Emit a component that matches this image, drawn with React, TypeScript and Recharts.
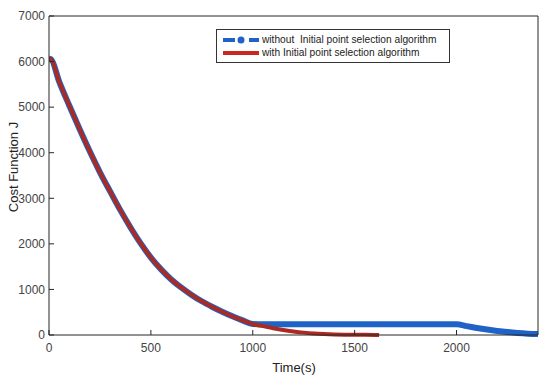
import React from 'react'
import { LineChart, Line, XAxis, YAxis } from 'recharts'

// time in seconds
const timeRed = [0, 10, 50, 100, 150, 200, 250, 300, 350, 400, 450, 500, 550, 600, 650, 700, 750, 800, 850, 900, 950, 1000,
    1050, 1100, 1150, 1200, 1250, 1300, 1350, 1400, 1450, 1500, 1550, 1600, 1620]
const costRed = [6060, 6050, 5560, 5030, 4520, 4030, 3570, 3150, 2740, 2360, 2010, 1700, 1440, 1220, 1040, 880, 740, 620, 510, 410, 320, 240,
    195, 150, 110, 78, 52, 33, 21, 13, 8, 5, 3, 1, 0]

const timeBlue = [0, 10, 50, 100, 150, 200, 250, 300, 350, 400, 450, 500, 550, 600, 650, 700, 750, 800, 850, 900, 950, 1000,
    1050, 1100, 1150, 1200, 1250, 1300, 1350, 1400, 1450, 1500, 1550, 1600, 1650, 1700, 1750, 1800, 1850, 1900, 1950, 2000,
    2050, 2100, 2150, 2200, 2250, 2300, 2350, 2400]
const costBlue = [6060, 6050, 5560, 5030, 4520, 4030, 3570, 3150, 2740, 2360, 2010, 1700, 1440, 1220, 1040, 880, 740, 620, 510, 410, 320, 240,
    235, 235, 235, 235, 235, 235, 235, 235, 235, 235, 235, 235, 235, 235, 235, 235, 235, 235, 235, 235,
    195, 155, 120, 90, 65, 45, 30, 20]

const xTicks = [0, 500, 1000, 1500, 2000]
const yTicks = [0, 1000, 2000, 3000, 4000, 5000, 6000, 7000]

const labelBlue = 'without  Initial point selection algorithm'
const labelRed = 'with Initial point selection algorithm'

const redData = timeRed.map((t, i) => ({ t, cost: costRed[i] }))
const blueData = timeBlue.map((t, i) => ({ t, cost: costBlue[i] }))

const BLUE = '#1f63c6'
const RED = '#ab2a22'
const AXIS = '#262626'
const font = '"Liberation Sans", Arial, sans-serif'
const tickStyle = { fontSize: 12, fill: '#444', fontFamily: font }

const App = () => {
    return (
        <div style={{ position: 'absolute', left: 0, top: 0, width: 550, height: 375, background: '#fff', fontFamily: font }}>
            <LineChart width={550} height={375} margin={{ top: 15, right: 11, bottom: 0, left: 0 }}>
                <XAxis xAxisId="b" dataKey="t" type="number" domain={[0, 2400]} ticks={xTicks} allowDataOverflow
                    height={40} tickSize={-5} tickMargin={13} tick={tickStyle}
                    axisLine={{ stroke: AXIS }} tickLine={{ stroke: AXIS }} />
                <XAxis xAxisId="top" orientation="top" dataKey="t" type="number" domain={[0, 2400]} ticks={xTicks}
                    height={1} tickSize={-5} tickFormatter={() => ''} axisLine={{ stroke: AXIS }} tickLine={{ stroke: AXIS }} />
                <YAxis yAxisId="l" type="number" domain={[0, 7000]} ticks={yTicks} width={49}
                    tickSize={-5} tickMargin={9} tick={tickStyle}
                    axisLine={{ stroke: AXIS }} tickLine={{ stroke: AXIS }} />
                <YAxis yAxisId="r" orientation="right" type="number" domain={[0, 7000]} ticks={yTicks} width={1}
                    tickSize={-5} tickFormatter={() => ''} axisLine={{ stroke: AXIS }} tickLine={{ stroke: AXIS }} />
                <Line xAxisId="b" yAxisId="l" data={blueData} dataKey="cost" type="monotone" stroke={BLUE} strokeWidth={6}
                    dot={false} isAnimationActive={false} />
                <Line xAxisId="b" yAxisId="l" data={redData} dataKey="cost" type="monotone" stroke={RED} strokeWidth={4}
                    dot={false} isAnimationActive={false} />
            </LineChart>

            <div style={{ position: 'absolute', left: 216, top: 29, width: 232, height: 32, border: '1px solid #333', background: '#fff', fontSize: 10.2, color: '#222' }}>
                <svg width={40} height={32} style={{ position: 'absolute', left: 4, top: 0 }}>
                    <line x1={2} y1={10} x2={14} y2={10} stroke={BLUE} strokeWidth={4} />
                    <circle cx={20} cy={10} r={3.5} fill={BLUE} />
                    <line x1={28} y1={10} x2={38} y2={10} stroke={BLUE} strokeWidth={4} />
                    <line x1={2} y1={23} x2={38} y2={23} stroke="#c8281e" strokeWidth={4} />
                </svg>
                <div style={{ position: 'absolute', left: 45, top: 4, whiteSpace: 'pre' }}>{labelBlue}</div>
                <div style={{ position: 'absolute', left: 45, top: 17, whiteSpace: 'pre' }}>{labelRed}</div>
            </div>

            <div style={{ position: 'absolute', left: 294, top: 367, transform: 'translate(-50%, -50%)', fontSize: 13, color: '#222', whiteSpace: 'nowrap' }}>Time(s)</div>
            <div style={{ position: 'absolute', left: 13, top: 167, transform: 'translate(-50%, -50%) rotate(-90deg)', fontSize: 13, color: '#222', whiteSpace: 'nowrap' }}>Cost Function J</div>
        </div>
    )
}

export default App
